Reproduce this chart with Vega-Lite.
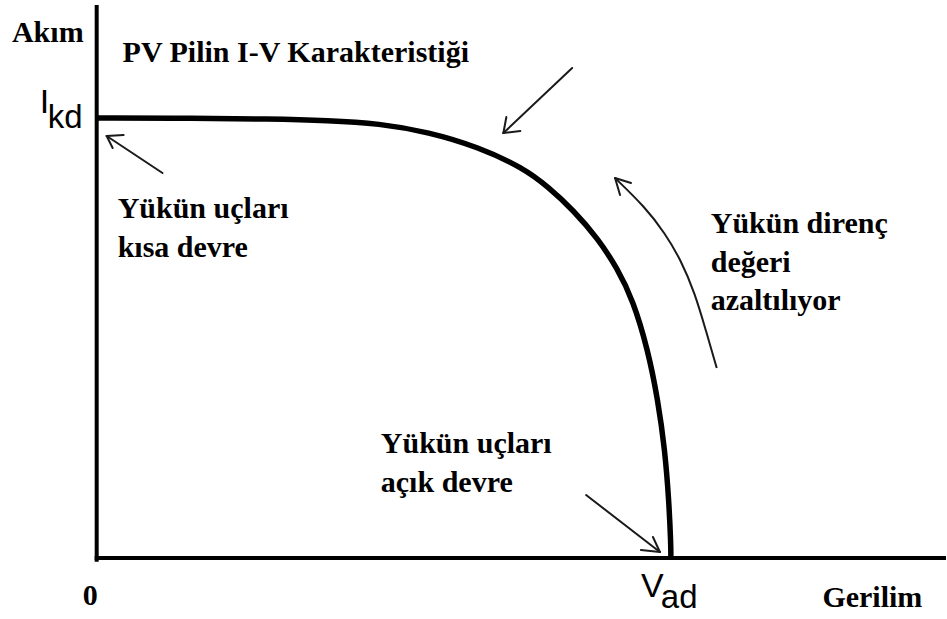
{
  "$schema": "https://vega.github.io/schema/vega-lite/v6.json",
  "width": 947,
  "height": 619,
  "padding": 0,
  "autosize": {"type": "fit", "contains": "padding"},
  "background": "white",
  "config": {"view": {"stroke": null}},
  "datasets": {
    "curve": [
      {"x": 0.0, "y": 1.0},
      {"x": 0.17, "y": 0.9995},
      {"x": 0.3, "y": 0.998},
      {"x": 0.4045, "y": 0.9945},
      {"x": 0.4913, "y": 0.9876},
      {"x": 0.5781, "y": 0.9682},
      {"x": 0.6649, "y": 0.9341},
      {"x": 0.7431, "y": 0.8864},
      {"x": 0.7865, "y": 0.8432},
      {"x": 0.8299, "y": 0.7909},
      {"x": 0.8733, "y": 0.7255},
      {"x": 0.9063, "y": 0.6591},
      {"x": 0.934, "y": 0.5864},
      {"x": 0.9601, "y": 0.4727},
      {"x": 0.9774, "y": 0.3591},
      {"x": 0.9896, "y": 0.2455},
      {"x": 0.9965, "y": 0.1318},
      {"x": 1.0, "y": 0.03},
      {"x": 1.0, "y": 0.0}
    ],
    "axes": [
      {"x": 0.0, "y": -0.004, "x2": 0.0, "y2": 1.2523},
      {"x": 0.0, "y": 0.0, "x2": 1.4757, "y2": 0.0}
    ],
    "arrows": [
      {"x": 0.8281, "y": 1.1136, "x2": 0.7083, "y2": 0.9659},
      {"x": 0.7083, "y": 0.9659, "x2": 0.7135, "y2": 1.0023},
      {"x": 0.7083, "y": 0.9659, "x2": 0.7378, "y2": 0.9705},
      {"x": 0.1146, "y": 0.875, "x2": 0.0174, "y2": 0.9591},
      {"x": 0.0174, "y": 0.9591, "x2": 0.0469, "y2": 0.9614},
      {"x": 0.0174, "y": 0.9591, "x2": 0.0278, "y2": 0.9318},
      {"x": 0.8524, "y": 0.1432, "x2": 0.9809, "y2": 0.0136},
      {"x": 0.9809, "y": 0.0136, "x2": 0.9479, "y2": 0.0182},
      {"x": 0.9809, "y": 0.0136, "x2": 0.9688, "y2": 0.0477},
      {"x": 0.9028, "y": 0.8636, "x2": 0.9306, "y2": 0.8523},
      {"x": 0.9028, "y": 0.8636, "x2": 0.9115, "y2": 0.825}
    ],
    "sweep": [
      {"x": 0.9028, "y": 0.8636},
      {"x": 0.9549, "y": 0.7977},
      {"x": 0.9896, "y": 0.7386},
      {"x": 1.0174, "y": 0.6773},
      {"x": 1.0417, "y": 0.6023},
      {"x": 1.0608, "y": 0.5182},
      {"x": 1.0799, "y": 0.4318}
    ],
    "notes": [
      {"x": -0.1476, "y": 1.1727, "label": "Akım"},
      {"x": 0.0451, "y": 1.1273, "label": "PV Pilin I-V Karakteristiği"},
      {"x": 0.0365, "y": 0.7727, "label": "Yükün uçları"},
      {"x": 0.0365, "y": 0.6841, "label": "kısa devre"},
      {"x": 1.0694, "y": 0.7386, "label": "Yükün direnç"},
      {"x": 1.0694, "y": 0.65, "label": "değeri"},
      {"x": 1.0694, "y": 0.5636, "label": "azaltılıyor"},
      {"x": 0.4948, "y": 0.2386, "label": "Yükün uçları"},
      {"x": 0.4948, "y": 0.15, "label": "açık devre"},
      {"x": -0.0243, "y": -0.1068, "label": "0"},
      {"x": 1.2639, "y": -0.1114, "label": "Gerilim"}
    ],
    "symbols": [
      {"x": -0.099, "y": 1.0114, "label": "I"},
      {"x": 0.9479, "y": -0.0886, "label": "V"}
    ],
    "subscripts": [
      {"x": -0.0852, "y": 0.9773, "label": "kd"},
      {"x": 0.9826, "y": -0.1136, "label": "ad"}
    ]
  },
  "encoding": {
    "x": {"field": "x", "type": "quantitative", "axis": null,
          "scale": {"domain": [-0.1684, 1.4757], "nice": false, "zero": false}},
    "y": {"field": "y", "type": "quantitative", "axis": null,
          "scale": {"domain": [-0.1386, 1.2682], "nice": false, "zero": false}}
  },
  "layer": [
    {
      "data": {"name": "axes"},
      "mark": {"type": "rule", "color": "#000000", "strokeWidth": 4, "strokeCap": "square"},
      "encoding": {"x2": {"field": "x2"}, "y2": {"field": "y2"}}
    },
    {
      "data": {"name": "curve"},
      "mark": {"type": "line", "color": "#000000", "strokeWidth": 5.5, "interpolate": "basis", "strokeCap": "butt"},
      "encoding": {"order": {"field": "x", "type": "quantitative"}}
    },
    {
      "data": {"name": "arrows"},
      "mark": {"type": "rule", "color": "#1a1a1a", "strokeWidth": 2, "strokeCap": "round"},
      "encoding": {"x2": {"field": "x2"}, "y2": {"field": "y2"}}
    },
    {
      "data": {"name": "sweep"},
      "mark": {"type": "line", "color": "#1a1a1a", "strokeWidth": 2, "interpolate": "basis"},
      "encoding": {"order": {"field": "x", "type": "quantitative"}}
    },
    {
      "data": {"name": "notes"},
      "mark": {"type": "text", "font": "Liberation Serif", "fontWeight": "bold", "fontSize": 30,
               "align": "left", "baseline": "alphabetic", "color": "#000000"},
      "encoding": {"text": {"field": "label"}}
    },
    {
      "data": {"name": "symbols"},
      "mark": {"type": "text", "font": "Liberation Sans", "fontSize": 34,
               "align": "left", "baseline": "alphabetic", "color": "#000000"},
      "encoding": {"text": {"field": "label"}}
    },
    {
      "data": {"name": "subscripts"},
      "mark": {"type": "text", "font": "Liberation Sans", "fontSize": 33,
               "align": "left", "baseline": "alphabetic", "color": "#000000"},
      "encoding": {"text": {"field": "label"}}
    }
  ]
}
